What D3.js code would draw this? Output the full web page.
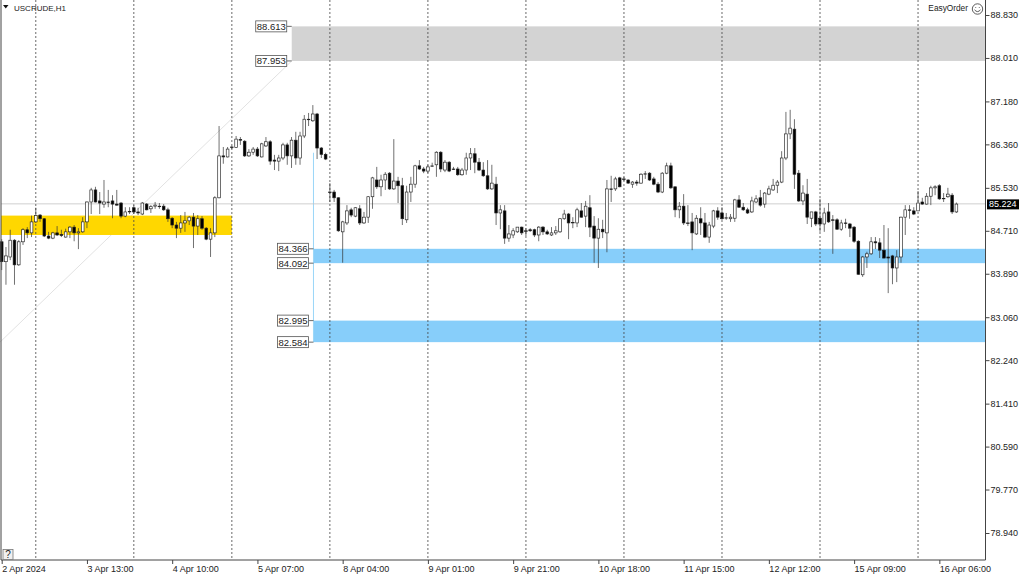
<!DOCTYPE html>
<html>
<head>
<meta charset="utf-8">
<style>
  html, body { margin: 0; padding: 0; background: #fff; }
  svg { display: block; }
  text { font-family: "Liberation Sans", sans-serif; font-size: 9px; fill: #222; }
</style>
<script src="https://cdn.jsdelivr.net/npm/d3@7"></script>
</head>
<body>
<svg width="1024" height="576"></svg>
<script>
// H1 bars, index 0 is the first bar on the left
let opens = [
  84.50,84.12,84.21,84.53,84.06,84.50,84.73,84.67,84.88,85.01,
  84.94,84.61,84.57,84.67,84.64,84.59,84.69,84.78,84.67,84.69,
  84.88,85.26,85.49,85.28,85.22,85.26,85.28,85.22,85.24,84.99,
  85.07,85.15,85.07,85.03,85.22,85.13,85.18,85.17,85.18,85.11,
  84.95,84.82,84.76,84.86,84.90,84.97,84.80,84.94,84.76,84.55,
  84.67,85.34,86.14,86.12,86.31,86.30,86.45,86.42,86.14,86.21,
  86.27,86.12,86.33,86.41,86.06,86.04,86.10,86.35,86.14,86.44,
  86.10,86.52,86.84,86.81,86.94,86.29,86.17,85.45,85.45,85.34,
  84.69,84.86,85.11,84.99,85.13,84.86,84.97,85.36,85.68,85.55,
  85.68,85.81,85.51,85.66,85.57,84.92,85.45,85.60,85.95,85.89,
  85.85,85.94,85.97,86.21,85.87,86.02,85.89,85.89,85.78,85.87,
  86.10,86.18,86.02,85.87,85.76,85.51,85.60,85.05,85.09,84.57,
  84.63,84.69,84.78,84.71,84.73,84.73,84.63,84.78,84.69,84.63,
  84.67,84.69,84.94,85.03,84.87,84.86,85.09,84.99,85.15,84.80,
  84.57,84.74,84.67,85.51,85.51,85.72,85.70,85.68,85.60,85.64,
  85.62,85.79,85.81,85.70,85.60,85.45,85.81,85.95,85.55,85.11,
  85.18,84.86,84.88,84.65,84.94,84.86,84.59,84.80,85.09,85.05,
  84.95,84.94,84.95,85.30,85.16,85.11,85.07,85.26,85.34,85.22,
  85.41,85.49,85.58,85.64,86.10,86.56,86.65,85.81,85.28,85.41,
  84.95,85.07,84.95,84.84,85.07,84.92,84.92,84.74,84.86,84.84,
  84.78,84.51,83.87,84.21,84.27,84.50,84.48,84.34,84.21,84.23,
  84.00,84.21,84.97,85.11,85.09,85.09,85.26,85.22,85.37,85.53,
  85.57,85.32,85.36,85.39,85.07
]
let highs = [
  84.55,84.40,84.73,84.55,84.53,84.76,84.78,85.00,85.15,85.03,
  84.95,84.69,84.69,84.80,84.73,84.75,84.80,84.82,84.76,84.97,
  85.27,85.53,85.55,85.45,85.68,85.49,85.39,85.49,85.26,85.16,
  85.16,85.20,85.15,85.26,85.24,85.20,85.26,85.24,85.22,85.15,
  84.97,84.88,85.01,85.07,84.99,85.05,85.01,84.99,84.78,84.76,
  85.37,86.71,86.31,86.31,86.33,86.52,86.50,86.44,86.27,86.31,
  86.31,86.39,86.50,86.44,86.16,86.16,86.39,86.39,86.50,86.60,
  86.60,86.92,86.96,87.11,86.96,86.31,86.20,85.62,85.49,85.35,
  84.90,85.20,85.15,85.16,85.20,85.07,85.37,85.74,85.93,85.78,
  85.83,85.83,86.46,85.74,85.72,85.57,85.74,85.97,86.06,85.93,
  85.97,86.01,86.23,86.23,86.06,86.04,85.93,85.93,85.91,86.20,
  86.29,86.29,86.10,86.02,86.06,85.97,85.74,85.20,85.20,84.82,
  84.76,84.78,84.79,84.76,84.76,84.75,84.80,84.80,84.73,84.78,
  84.80,84.95,85.11,85.05,84.97,85.15,85.24,85.28,85.39,84.99,
  84.95,84.92,85.68,85.76,85.74,85.74,85.74,85.69,85.66,85.68,
  85.81,85.85,85.83,85.74,85.64,85.83,86.01,86.01,85.55,85.26,
  85.41,85.20,85.05,85.01,85.16,85.05,84.88,85.11,85.16,85.16,
  85.05,85.03,85.32,85.39,85.24,85.15,85.36,85.39,85.49,85.45,
  85.57,85.70,85.68,86.23,86.98,87.02,86.84,85.87,85.58,85.70,
  85.07,85.09,85.32,85.15,85.24,85.01,84.95,84.92,84.94,84.86,
  84.80,84.53,84.23,84.31,84.59,84.59,84.57,84.82,84.76,84.25,
  84.34,84.98,85.20,85.20,85.16,85.47,85.34,85.43,85.57,85.58,
  85.60,85.43,85.53,85.43,85.25
]
let lows = [
  83.96,83.68,84.15,83.68,84.04,84.44,84.57,84.59,84.86,84.88,
  84.59,84.55,84.55,84.61,84.59,84.58,84.57,84.51,84.36,84.67,
  84.76,85.03,85.25,85.03,85.15,85.16,84.95,85.19,84.95,84.97,
  85.03,85.03,85.01,85.01,85.10,85.05,85.13,85.13,85.09,84.88,
  84.76,84.57,84.67,84.69,84.82,84.38,84.63,84.73,84.53,84.21,
  84.59,85.33,85.99,86.11,86.27,86.29,86.35,86.12,86.12,86.16,
  86.12,86.11,86.31,85.97,85.87,85.85,86.06,85.97,85.91,85.97,
  85.97,86.48,86.71,86.79,86.08,86.10,86.06,85.26,85.26,84.69,
  84.10,84.82,84.97,84.97,84.82,84.84,84.86,85.13,85.51,85.37,
  85.49,85.49,85.49,85.24,84.82,84.86,85.26,85.53,85.87,85.81,
  85.81,85.93,85.74,85.83,85.83,85.83,85.87,85.76,85.76,85.78,
  85.87,85.81,85.85,85.74,85.49,85.49,84.82,84.74,84.46,84.50,
  84.57,84.67,84.63,84.61,84.69,84.59,84.51,84.63,84.63,84.61,
  84.63,84.67,84.92,84.55,84.76,84.78,84.96,84.78,84.59,84.10,
  84.00,84.57,84.30,85.26,85.47,85.54,85.66,85.61,85.53,85.57,
  85.61,85.70,85.66,85.58,85.43,85.43,85.79,85.51,84.97,84.95,
  84.82,84.80,84.34,84.63,84.63,84.57,84.48,84.76,84.92,84.92,
  84.92,84.88,84.88,85.15,85.09,85.03,85.05,85.24,85.17,85.15,
  85.39,85.47,85.43,85.62,86.06,86.46,85.51,85.26,85.20,84.84,
  84.78,84.80,84.69,84.69,84.86,84.27,84.73,84.71,84.76,84.59,
  84.48,83.87,83.83,84.00,84.25,84.36,84.19,84.18,83.52,83.69,
  83.73,84.10,84.63,84.94,85.01,85.09,85.21,85.21,85.20,85.39,
  85.30,85.26,85.34,85.03,85.05
]
let closes = [
  84.12,84.23,84.53,84.06,84.50,84.73,84.67,84.88,85.00,84.94,
  84.61,84.57,84.67,84.63,84.62,84.69,84.78,84.67,84.69,84.88,
  85.26,85.49,85.26,85.24,85.26,85.25,85.22,85.20,84.99,85.07,
  85.08,85.07,85.05,85.24,85.11,85.17,85.20,85.18,85.11,84.94,
  84.82,84.76,84.86,84.90,84.97,84.80,84.94,84.76,84.55,84.67,
  85.34,86.14,86.12,86.27,86.30,86.46,86.44,86.14,86.21,86.27,
  86.14,86.37,86.41,86.04,86.04,86.10,86.35,86.14,86.44,86.10,
  86.52,86.84,86.83,86.94,86.29,86.17,86.08,85.44,85.34,84.71,
  84.88,85.09,85.01,85.15,84.86,84.97,85.36,85.72,85.55,85.68,
  85.79,85.51,85.66,85.57,84.94,85.45,85.60,85.95,85.89,85.85,
  85.93,85.95,86.21,85.89,86.02,85.85,85.88,85.78,85.87,86.10,
  86.18,86.02,85.87,85.76,85.51,85.62,85.05,85.11,84.57,84.65,
  84.71,84.78,84.67,84.70,84.71,84.63,84.78,84.69,84.65,84.67,
  84.71,84.94,85.03,84.86,84.86,85.11,84.97,85.18,84.78,84.57,
  84.74,84.69,85.51,85.50,85.70,85.55,85.69,85.62,85.64,85.62,
  85.79,85.80,85.68,85.60,85.45,85.81,85.95,85.53,85.11,85.18,
  84.86,84.85,84.67,84.95,84.86,84.59,84.82,85.09,84.97,84.94,
  84.96,84.97,85.30,85.16,85.11,85.05,85.28,85.32,85.20,85.43,
  85.51,85.58,85.64,86.10,86.56,86.67,85.79,85.28,85.43,84.97,
  85.07,84.84,84.84,85.05,84.88,84.91,84.74,84.86,84.85,84.76,
  84.51,83.88,84.21,84.27,84.50,84.48,84.34,84.19,84.19,84.00,
  84.21,84.97,85.11,85.10,85.03,85.24,85.22,85.37,85.53,85.55,
  85.32,85.33,85.41,85.07,85.22
]

let priceTicks = [88.83, 88.01, 87.18, 86.36, 85.53, 84.71, 83.89, 83.06, 82.24, 81.41, 80.59, 79.77, 78.94]
let timeTickBars = [0, 20, 40, 60, 80, 100, 120, 140, 160, 180, 200, 220]
let timeTickLabels = ['2 Apr 2024', '3 Apr 13:00', '4 Apr 10:00', '5 Apr 07:00', '8 Apr 04:00', '9 Apr 01:00',
  '9 Apr 21:00', '10 Apr 18:00', '11 Apr 15:00', '12 Apr 12:00', '15 Apr 09:00', '16 Apr 06:00']
let daySeparatorBars = [8, 31, 54, 77, 100, 123, 146, 169, 192, 215]
let lastPrice = 85.224

// zones: price top, price bottom, first bar, last bar (null = runs to the axis)
let zoneTops = [85.0, 88.613, 84.366, 82.995]
let zoneBottoms = [84.63, 87.953, 84.092, 82.584]
let zoneStarts = [null, 68.05, 73.15, 73.15]
let zoneEnds = [54, null, null, null]
let zoneColors = ['#ffd700', '#d3d3d3', '#87cefa', '#87cefa']
let zoneLabelled = [false, true, true, true]

let svg = d3.select('svg')
let left = 1, right = 985.5, bottom = 560

let x = d3.scaleLinear().domain([0, 224]).range([1.7, 956.4])
let y = d3.scaleLinear().domain([88.83, 78.94]).range([15, 533])

// thin grey trend line under the zones
svg.append('line')
  .attr('x1', 0).attr('y1', y(82.584))
  .attr('x2', x(68.05)).attr('y2', y(87.953))
  .attr('stroke', '#e2e2e2').attr('stroke-width', 1)

zoneTops.forEach(function(top, i) {
  let x0 = zoneStarts[i] === null ? left : x(zoneStarts[i])
  let x1 = zoneEnds[i] === null ? right : x(zoneEnds[i])
  svg.append('rect')
    .attr('x', x0).attr('y', y(top))
    .attr('width', x1 - x0).attr('height', y(zoneBottoms[i]) - y(top))
    .attr('fill', zoneColors[i])
})

// vertical helper from the swing high down to the lower blue zone
svg.append('line')
  .attr('x1', x(73.15)).attr('y1', y(86.2))
  .attr('x2', x(73.15)).attr('y2', y(82.584))
  .attr('stroke', '#9bd6f8').attr('stroke-width', 1)

// last price line
svg.append('line')
  .attr('x1', left).attr('y1', y(lastPrice))
  .attr('x2', right).attr('y2', y(lastPrice))
  .attr('stroke', '#c4c4c4').attr('stroke-width', 0.8)

svg.selectAll('.sep')
  .data(daySeparatorBars)
  .enter()
  .append('line')
    .attr('class', 'sep')
    .attr('x1', function(d) { return x(d) }).attr('x2', function(d) { return x(d) })
    .attr('y1', 0).attr('y2', bottom)
    .attr('stroke', '#444').attr('stroke-width', 0.8).attr('stroke-dasharray', '2,2')

let bars = svg.selectAll('.bar')
  .data(opens)
  .enter()
  .append('g')
    .attr('class', 'bar')

bars.append('line')
  .attr('x1', function(d, i) { return x(i) }).attr('x2', function(d, i) { return x(i) })
  .attr('y1', function(d, i) { return y(highs[i]) }).attr('y2', function(d, i) { return y(lows[i]) })
  .attr('stroke', '#333').attr('stroke-width', 0.7)

bars.append('rect')
  .attr('x', function(d, i) { return x(i) - 1.35 })
  .attr('y', function(d, i) { return y(Math.max(opens[i], closes[i])) })
  .attr('width', 2.7)
  .attr('height', function(d, i) { return Math.abs(y(opens[i]) - y(closes[i])) })
  .attr('fill', function(d, i) { return closes[i] >= opens[i] ? '#fff' : '#000' })
  .attr('stroke', '#222').attr('stroke-width', 0.65)

// frame
svg.append('path')
  .attr('d', 'M' + left + ',0V' + bottom + 'H' + right + 'V0')
  .attr('fill', 'none').attr('stroke', '#444').attr('stroke-width', 1)

let yAxis = d3.axisRight(y).tickValues(priceTicks).tickFormat(d3.format('.3f')).tickSize(4).tickPadding(1)
let yG = svg.append('g').attr('transform', 'translate(' + right + ',0)').call(yAxis)
yG.select('.domain').remove()
yG.selectAll('.tick line').attr('stroke', '#444')

let xAxis = d3.axisBottom(x).tickValues(timeTickBars)
  .tickFormat(function(d) { return timeTickLabels[timeTickBars.indexOf(d)] })
  .tickSize(4).tickPadding(1.5)
let xG = svg.append('g').attr('transform', 'translate(0,' + bottom + ')').call(xAxis)
xG.select('.domain').remove()
xG.selectAll('.tick line').attr('stroke', '#444')
xG.selectAll('.tick text').attr('text-anchor', 'start').attr('x', 0)

svg.selectAll('.tick text').style('font-family', '"Liberation Sans", sans-serif').style('font-size', '9px').style('fill', '#222')

// boxed price labels on the zone edges
let boxPrices = []
zoneTops.forEach(function(top, i) {
  if (zoneLabelled[i]) {
    boxPrices.push({ price: top, startX: x(zoneStarts[i]) })
    boxPrices.push({ price: zoneBottoms[i], startX: x(zoneStarts[i]) })
  }
})
boxPrices.forEach(function(b) {
  let cy = y(b.price)
  svg.append('line')
    .attr('x1', b.startX - 5).attr('x2', b.startX).attr('y1', cy).attr('y2', cy)
    .attr('stroke', '#444').attr('stroke-width', 0.8)
  svg.append('rect')
    .attr('x', b.startX - 36).attr('y', cy - 5.5).attr('width', 31).attr('height', 11)
    .attr('fill', '#fff').attr('stroke', '#555').attr('stroke-width', 0.8)
  svg.append('text')
    .attr('x', b.startX - 20.5).attr('y', cy + 3.5)
    .attr('text-anchor', 'middle').style('font-size', '9.5px')
    .text(d3.format('.3f')(b.price))
})

// last price tag
svg.append('rect')
  .attr('x', 987).attr('y', y(lastPrice) - 4.5).attr('width', 32).attr('height', 10)
  .attr('fill', '#000')
svg.append('text')
  .attr('x', 989).attr('y', y(lastPrice) + 3.5)
  .style('fill', '#fff').text(d3.format('.3f')(lastPrice))

// header texts
svg.append('path').attr('d', 'M3,5H8.5L5.75,8.5Z').attr('fill', '#111')
svg.append('text').attr('x', 14).attr('y', 11).style('font-size', '8px').text('USCRUDE,H1')
svg.append('text').attr('x', 968).attr('y', 11).attr('text-anchor', 'end').style('font-size', '8.3px').text('EasyOrder')

let smile = svg.append('g').attr('transform', 'translate(977.5,9)')
  .attr('fill', 'none').attr('stroke', '#333').attr('stroke-width', 0.8)
smile.append('circle').attr('r', 5.2)
smile.append('path').attr('d', 'M-3,0.8Q0,4.4 3,0.8')
smile.append('path').attr('d', 'M-1.8,-1.8V-1M1.8,-1.8V-1')

// help button
svg.append('rect').attr('x', 3).attr('y', 549.5).attr('width', 10).attr('height', 10)
  .attr('fill', '#f0f0f0').attr('stroke', '#777').attr('stroke-width', 0.8)
svg.append('text').attr('x', 8).attr('y', 558).attr('text-anchor', 'middle').style('font-size', '10px').text('?')
</script>
</body>
</html>
